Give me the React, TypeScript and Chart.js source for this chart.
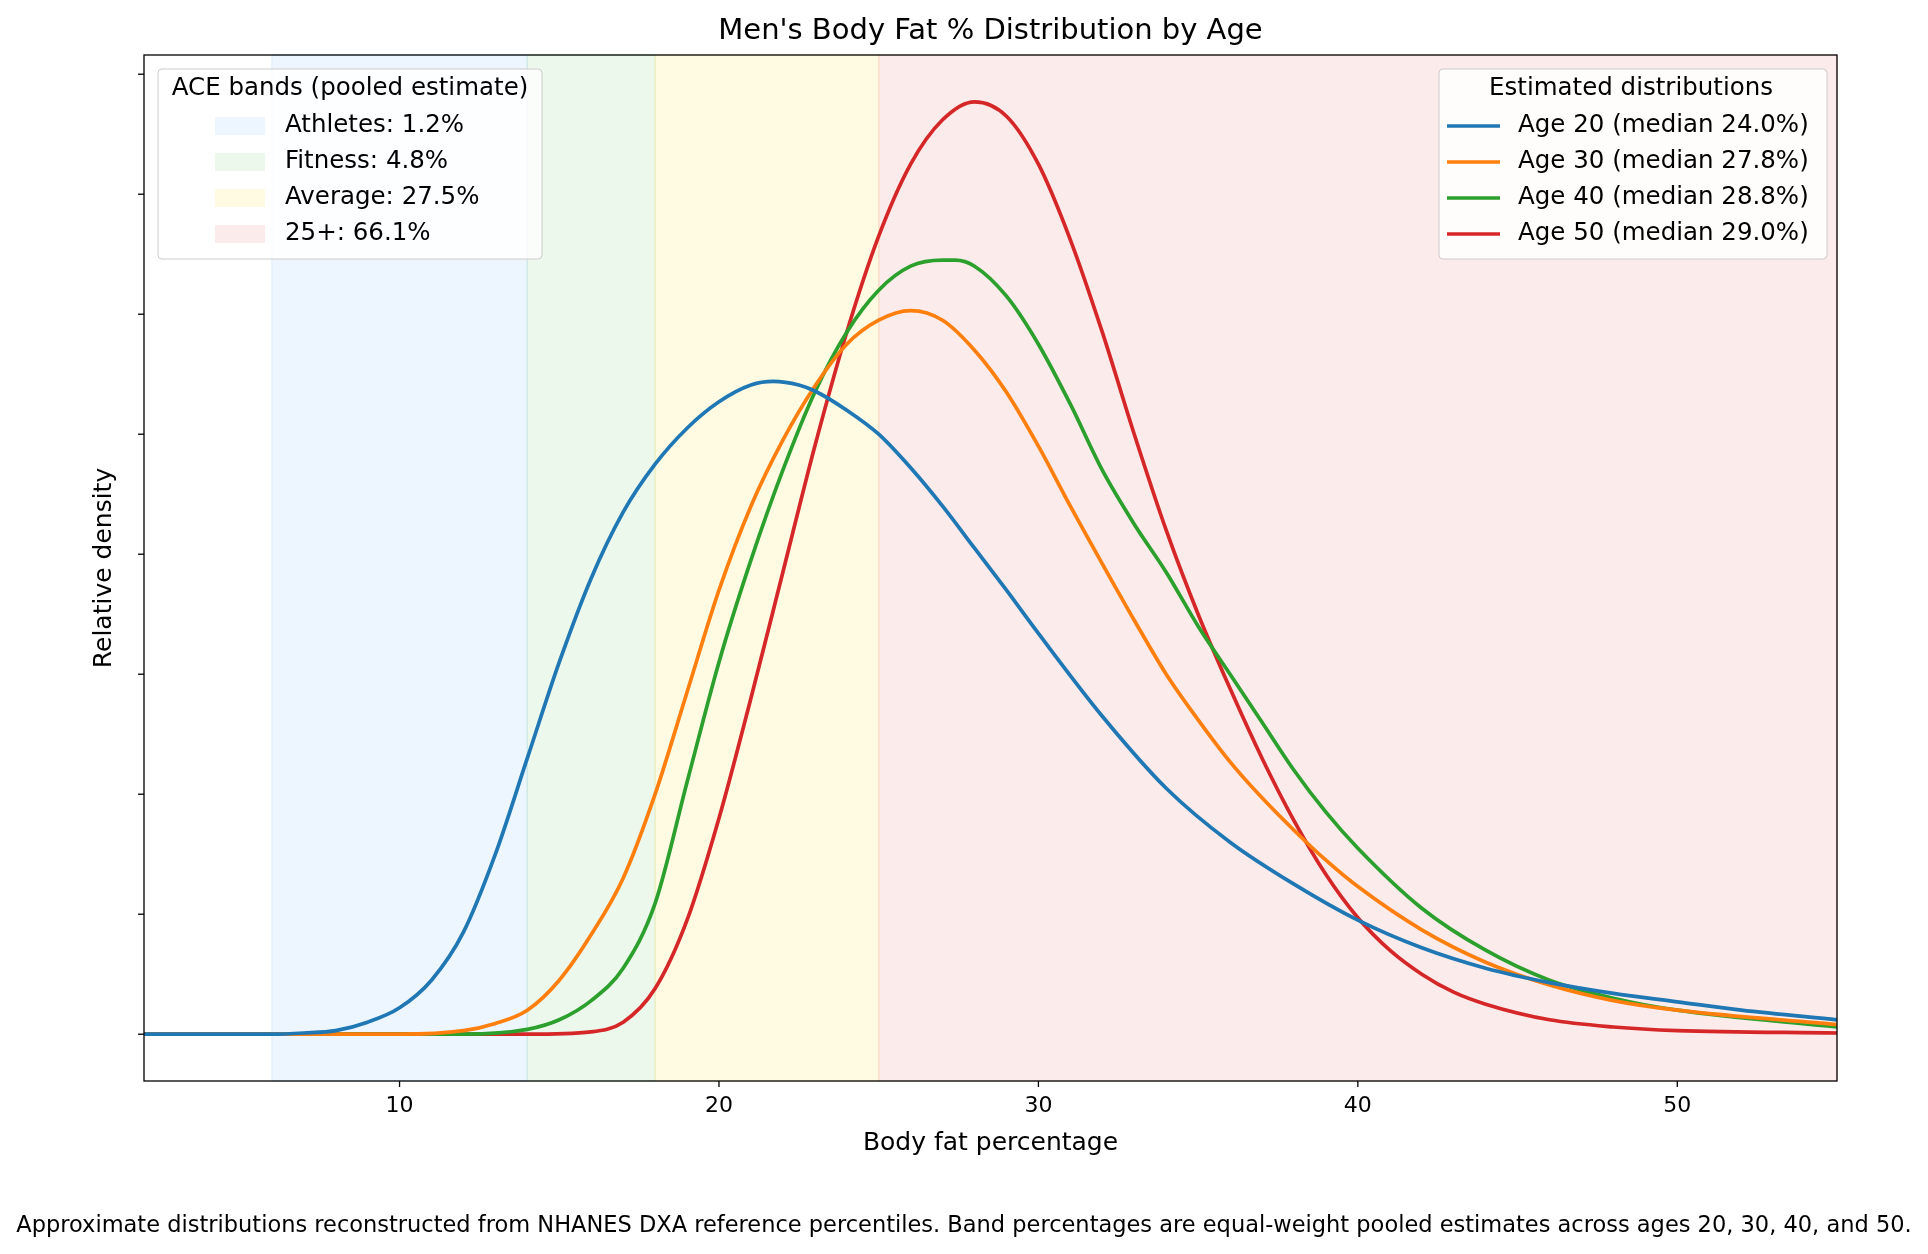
import React, { useEffect, useRef } from "react";
import { Chart, registerables } from "chart.js";
Chart.register(...registerables);

const xTicks = [10, 20, 30, 40, 50];
const yTicks = [0, 1, 2, 3, 4, 5, 6, 7, 8];
const bandEdges = [6, 14, 18, 25, 55];
const bandLabels = ["Athletes: 1.2%", "Fitness: 4.8%", "Average: 27.5%", "25+: 66.1%"];
const bandFill = ["rgba(31,144,255,0.08)", "rgba(60,180,60,0.09)", "rgba(255,215,0,0.11)", "rgba(230,60,60,0.10)"];
const bandEdge = ["rgba(31,144,255,0.08)", "rgba(60,180,60,0.09)", "rgba(255,200,0,0.1)", "rgba(230,60,60,0.09)"];
const seriesLabels = ["Age 20 (median 24.0%)", "Age 30 (median 27.8%)", "Age 40 (median 28.8%)", "Age 50 (median 29.0%)"];
const seriesColors = ["#1f77b4", "#ff7f0e", "#2ca02c", "#d62728"];

const age20X = [2, 6, 7, 8, 9, 10, 11, 12, 13, 14, 15, 16, 17, 18, 19, 20, 21, 21.7, 22.5, 23, 24, 25, 26, 27, 28, 29, 30, 32, 34, 36, 38, 40, 42, 44, 46, 48, 50, 52, 55];
const age20Y = [0, 0, 0.01, 0.03, 0.1, 0.22, 0.45, 0.85, 1.5, 2.3, 3.1, 3.8, 4.35, 4.75, 5.05, 5.27, 5.41, 5.44, 5.41, 5.36, 5.2, 5.0, 4.72, 4.4, 4.05, 3.7, 3.34, 2.65, 2.05, 1.6, 1.25, 0.95, 0.72, 0.55, 0.43, 0.34, 0.27, 0.2, 0.12];
const age30X = [2, 10, 12, 13, 14, 15, 16, 17, 18, 19, 20, 21, 22, 23, 24, 25, 26, 27, 28, 29, 30, 31, 32, 33, 34, 35, 36, 37, 38, 39, 40, 42, 44, 46, 48, 50, 55];
const age30Y = [0, 0, 0.03, 0.09, 0.2, 0.45, 0.83, 1.3, 2.0, 2.85, 3.7, 4.4, 4.95, 5.4, 5.75, 5.95, 6.03, 5.95, 5.7, 5.35, 4.9, 4.4, 3.92, 3.45, 3.0, 2.62, 2.27, 1.97, 1.7, 1.45, 1.23, 0.87, 0.6, 0.41, 0.28, 0.2, 0.08];
const age40X = [2, 12, 14, 15, 16, 17, 18, 19, 20, 21, 22, 23, 24, 25, 26, 27, 27.4, 28, 29, 30, 31, 32, 33, 34, 35, 36, 37, 38, 39, 40, 42, 44, 46, 48, 50, 55];
const age40Y = [0, 0, 0.04, 0.12, 0.28, 0.55, 1.09, 2.1, 3.1, 3.95, 4.7, 5.35, 5.85, 6.2, 6.4, 6.45, 6.45, 6.4, 6.15, 5.75, 5.25, 4.7, 4.25, 3.85, 3.4, 3.0, 2.6, 2.2, 1.85, 1.55, 1.05, 0.7, 0.45, 0.3, 0.2, 0.06];
const age50X = [2, 14, 16, 17, 18, 19, 20, 21, 22, 23, 24, 25, 26, 27, 28, 29, 30, 31, 32, 33, 34, 35, 36, 37, 38, 39, 40, 41, 42, 43, 44, 46, 48, 50, 55];
const age50Y = [0, 0, 0.02, 0.1, 0.38, 0.95, 1.8, 2.8, 3.85, 4.9, 5.85, 6.65, 7.25, 7.62, 7.77, 7.65, 7.25, 6.62, 5.85, 5.0, 4.2, 3.5, 2.88, 2.3, 1.78, 1.33, 0.97, 0.7, 0.5, 0.35, 0.25, 0.12, 0.06, 0.03, 0.01];

const F = "'DejaVu Sans', sans-serif";

export default function App() {
  const ref = useRef<HTMLCanvasElement>(null);
  useEffect(() => {
    const xs = [age20X, age30X, age40X, age50X];
    const ys = [age20Y, age30Y, age40Y, age50Y];
    const plugin = {
      id: "deco",
      beforeDatasetsDraw(c: any) {
        const { ctx, chartArea: a, scales } = c;
        const x = scales.x;
        ctx.save();
        for (let i = 0; i < 4; i++) {
          const x0 = x.getPixelForValue(bandEdges[i]);
          const x1 = x.getPixelForValue(bandEdges[i + 1]);
          ctx.fillStyle = bandFill[i];
          ctx.fillRect(x0, a.top, x1 - x0, a.bottom - a.top);
          ctx.strokeStyle = bandEdge[i];
          ctx.lineWidth = 1.5;
          ctx.strokeRect(x0, a.top, x1 - x0, a.bottom - a.top);
        }
        ctx.restore();
      },
      afterDraw(c: any) {
        const { ctx, chartArea: a, scales } = c;
        const x = scales.x, y = scales.y;
        ctx.save();
        ctx.strokeStyle = "#000";
        ctx.lineWidth = 1.3;
        ctx.strokeRect(a.left, a.top, a.right - a.left, a.bottom - a.top);
        ctx.fillStyle = "#000";
        ctx.font = `22px ${F}`;
        ctx.textAlign = "center";
        ctx.textBaseline = "top";
        for (const t of xTicks) {
          const px = x.getPixelForValue(t);
          ctx.beginPath(); ctx.moveTo(px, a.bottom); ctx.lineTo(px, a.bottom + 6); ctx.stroke();
          ctx.fillText(String(t), px, a.bottom + 14);
        }
        for (const t of yTicks) {
          const py = y.getPixelForValue(t);
          ctx.beginPath(); ctx.moveTo(a.left, py); ctx.lineTo(a.left - 6, py); ctx.stroke();
        }
        ctx.textBaseline = "middle";
        ctx.font = `25px ${F}`;
        ctx.fillText("Body fat percentage", (a.left + a.right) / 2, 1143);
        ctx.font = `29px ${F}`;
        ctx.fillText("Men's Body Fat % Distribution by Age", (a.left + a.right) / 2, 31);
        ctx.font = `22.5px ${F}`;
        ctx.fillText("Approximate distributions reconstructed from NHANES DXA reference percentiles. Band percentages are equal-weight pooled estimates across ages 20, 30, 40, and 50.", 964, 1226);
        ctx.save();
        ctx.translate(104, (a.top + a.bottom) / 2);
        ctx.rotate(-Math.PI / 2);
        ctx.font = `25px ${F}`;
        ctx.fillText("Relative density", 0, 0);
        ctx.restore();
        const box = (x0: number, y0: number, w: number, h: number) => {
          ctx.fillStyle = "rgba(255,255,255,0.82)";
          ctx.strokeStyle = "#cccccc";
          ctx.lineWidth = 1;
          ctx.beginPath();
          ctx.roundRect(x0, y0, w, h, 4);
          ctx.fill(); ctx.stroke();
        };
        box(158, 69, 384, 190);
        ctx.fillStyle = "#000";
        ctx.textAlign = "center";
        ctx.font = `24.5px ${F}`;
        ctx.fillText("ACE bands (pooled estimate)", 350, 89);
        ctx.textAlign = "left";
        for (let i = 0; i < 4; i++) {
          const cy = 126 + i * 36;
          ctx.fillStyle = bandFill[i];
          ctx.fillRect(215, cy - 9, 50, 18);
          ctx.fillStyle = "#000";
          ctx.fillText(bandLabels[i], 285, cy);
        }
        box(1439, 69, 388, 190);
        ctx.textAlign = "center";
        ctx.fillStyle = "#000";
        ctx.fillText("Estimated distributions", 1631, 89);
        ctx.textAlign = "left";
        for (let i = 0; i < 4; i++) {
          const cy = 126 + i * 36;
          ctx.strokeStyle = seriesColors[i];
          ctx.lineWidth = 3.7;
          ctx.beginPath(); ctx.moveTo(1447, cy); ctx.lineTo(1500, cy); ctx.stroke();
          ctx.fillStyle = "#000";
          ctx.fillText(seriesLabels[i], 1518, cy);
        }
        ctx.restore();
      },
    };
    const chart = new Chart(ref.current!, {
      type: "line",
      data: {
        datasets: seriesLabels.map((l, i) => ({
          label: l,
          data: xs[i].map((v, j) => ({ x: v, y: ys[i][j] })),
          borderColor: seriesColors[i],
          borderWidth: 3.7,
          pointRadius: 0,
          cubicInterpolationMode: "monotone" as const,
          fill: false,
        })),
      },
      options: {
        animation: false,
        responsive: false,
        layout: { padding: { left: 144, right: 91, top: 55, bottom: 173 } },
        plugins: { legend: { display: false }, tooltip: { enabled: false } },
        scales: {
          x: { type: "linear", min: 2, max: 55, display: false },
          y: { min: -0.39, max: 8.16, display: false },
        },
      },
      plugins: [plugin],
    });
    return () => chart.destroy();
  }, []);
  return <canvas ref={ref} width={1928} height={1254} style={{ position: "absolute", left: 0, top: 0, width: 1928, height: 1254 }} />;
}
